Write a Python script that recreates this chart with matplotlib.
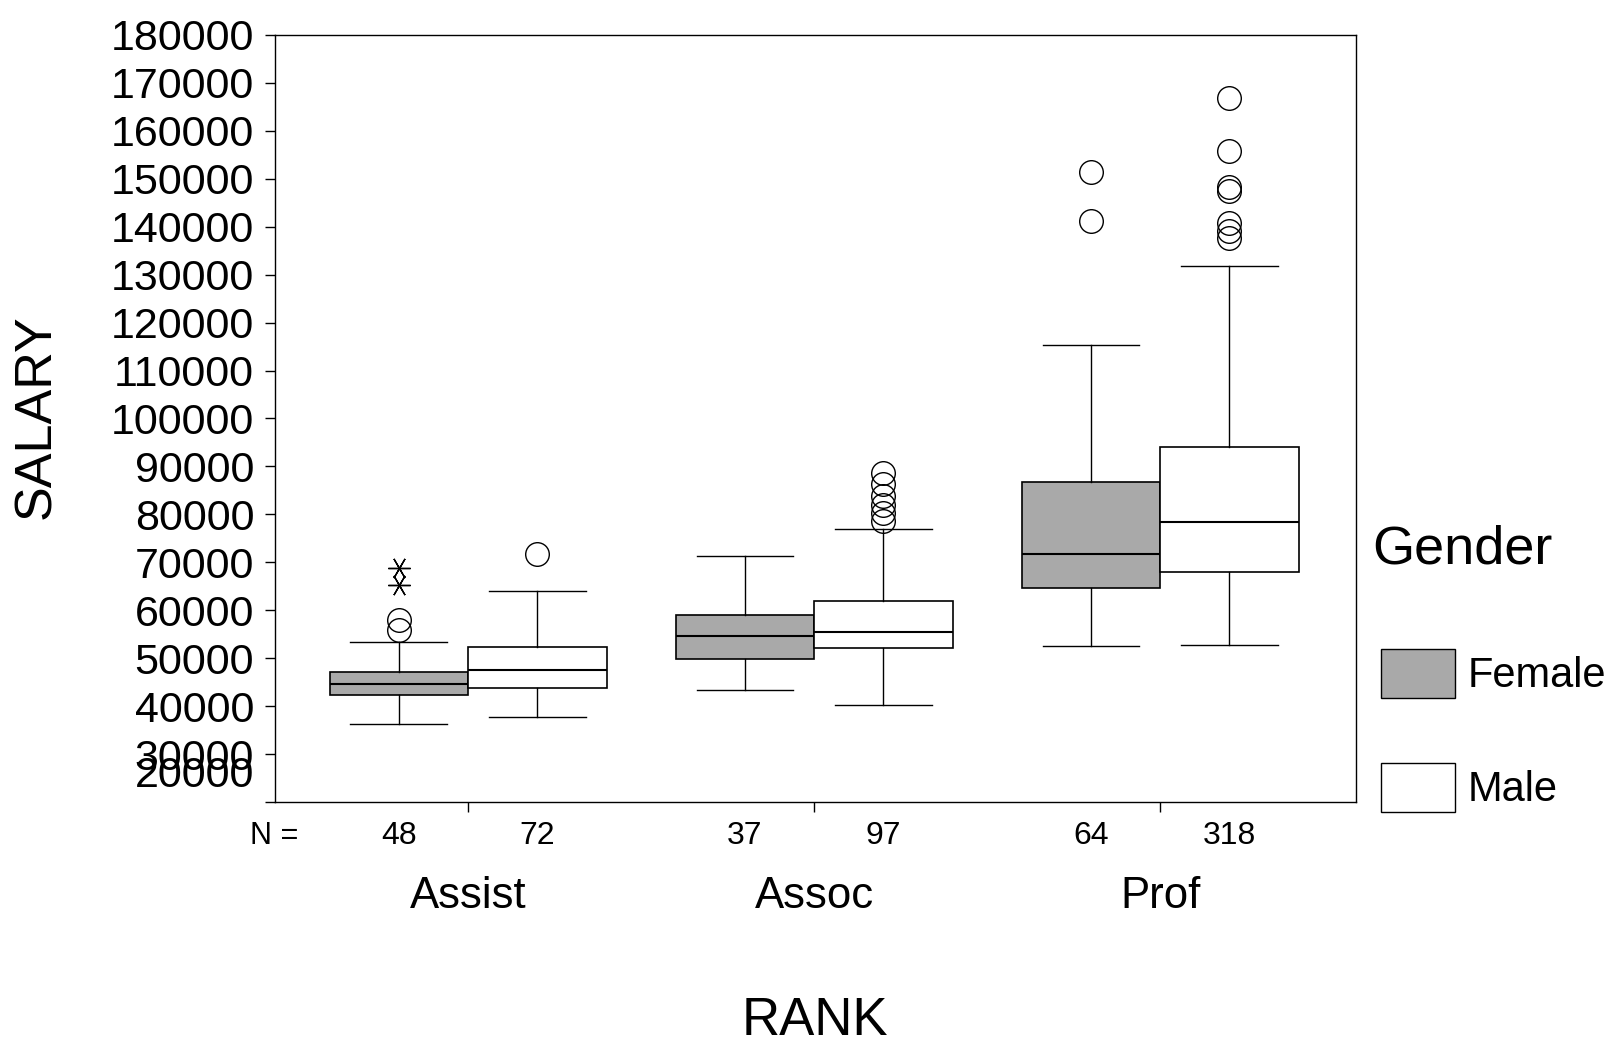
import matplotlib
matplotlib.use('Agg')
import matplotlib.pyplot as plt
from matplotlib.patches import Patch
from matplotlib.transforms import ScaledTranslation
import numpy as np

plt.rcParams['font.family'] = ['Liberation Sans', 'DejaVu Sans']

ranks = ['Assist', 'Assoc', 'Prof']
genders = ['Female', 'Male']
n_female = [48, 37, 64]
n_male = [72, 97, 318]

# box stats
female_whislo = [36200, 43300, 52600]
female_q1 = [42400, 49800, 64700]
female_med = [44600, 54700, 71700]
female_q3 = [47200, 59100, 86800]
female_whishi = [53400, 71400, 115300]
female_outliers = [[55800, 57900], [], [141200, 151500]]
female_extremes = [[65300, 68800], [], []]

male_whislo = [37700, 40200, 52800]
male_q1 = [43800, 52200, 68000]
male_med = [47600, 55400, 78400]
male_q3 = [52300, 62000, 94000]
male_whishi = [64000, 76900, 131800]
male_outliers = [[71700],
                 [78600, 80300, 82000, 83800, 86300, 88700],
                 [137700, 139000, 140700, 147400, 148200, 155800, 166800]]
male_extremes = [[], [], []]

yticks = list(range(20000, 180001, 10000))

female_color = '#a9a9a9'
male_color = 'white'


def make_stats(lo, q1, med, q3, hi, out):
    stats = []
    for a, b, c, d, e, f in zip(lo, q1, med, q3, hi, out):
        stats.append(dict(whislo=a, q1=b, med=c, q3=d, whishi=e, fliers=f))
    return stats


f_stats = make_stats(female_whislo, female_q1, female_med, female_q3, female_whishi, female_outliers)
m_stats = make_stats(male_whislo, male_q1, male_med, male_q3, male_whishi, male_outliers)

x = np.arange(len(ranks))
off = 0.2
width = 0.4

fig = plt.figure(figsize=(16.14, 10.46), dpi=100)
ax = fig.add_axes([0.1704, 0.2333, 0.6698, 0.7333])

groups = [(f_stats, x - off, female_color, female_extremes),
          (m_stats, x + off, male_color, male_extremes)]
for stats, pos, color, extremes in groups:
    ax.bxp(stats, positions=pos, widths=width, capwidths=0.28, patch_artist=True,
           manage_ticks=False,
           boxprops=dict(facecolor=color, edgecolor='black', linewidth=1.2),
           medianprops=dict(color='black', linewidth=1.5),
           whiskerprops=dict(color='black', linewidth=1),
           capprops=dict(color='black', linewidth=1),
           flierprops=dict(marker='o', markersize=17, markerfacecolor='none',
                           markeredgecolor='black', markeredgewidth=1))
    for p, vals in zip(pos, extremes):
        ax.plot([p] * len(vals), vals, linestyle='none', marker=(6, 2, 90),
                markersize=16, color='black', markeredgewidth=1)

ax.set_xlim(-0.558, 2.566)
ax.set_ylim(20000, 180000)

ax.set_yticks(yticks, [str(v) for v in yticks])
ax.tick_params(axis='y', direction='out', length=7, width=1, pad=8, labelsize=31)
# SPSS squeezed the 20000 label up against 30000
lab0 = ax.yaxis.get_majorticklabels()[0]
lab0.set_transform(lab0.get_transform() + ScaledTranslation(0, 22 / 72, fig.dpi_scale_trans))

ax.set_xticks(x, ranks)
ax.tick_params(axis='x', direction='out', length=7, width=1, pad=46, labelsize=31.5)

for s in ax.spines.values():
    s.set_linewidth(1)
    s.set_color('black')

# N counts under each box
trans = ax.get_xaxis_transform()
for i in range(len(ranks)):
    ax.text(x[i] - off, -0.044, str(n_female[i]), transform=trans, ha='center', va='center', fontsize=23)
    ax.text(x[i] + off, -0.044, str(n_male[i]), transform=trans, ha='center', va='center', fontsize=23)
fig.text(298 / 1614, (1046 - 836) / 1046, 'N =', ha='right', va='center', fontsize=22)

ax.set_ylabel('SALARY', fontsize=37.5)
ax.yaxis.set_label_coords(-0.198, 0.502)
ax.set_xlabel('RANK', fontsize=38)
ax.xaxis.set_label_coords(0.4995, -0.253)

fig.text(0.850, 1 - 549 / 1046, 'Gender', ha='left', va='center', fontsize=39)
handles = [Patch(facecolor=female_color, edgecolor='black', linewidth=1),
           Patch(facecolor=male_color, edgecolor='black', linewidth=1)]
fig.legend(handles, genders, loc='upper left',
           bbox_to_anchor=(1381 / 1614, 1 - 649 / 1046), frameon=False, fontsize=30,
           handlelength=1.77, handleheight=1.446,
           handletextpad=0.3, labelspacing=1.54,
           borderpad=0, borderaxespad=0)

fig.savefig('out.png', dpi=100)
